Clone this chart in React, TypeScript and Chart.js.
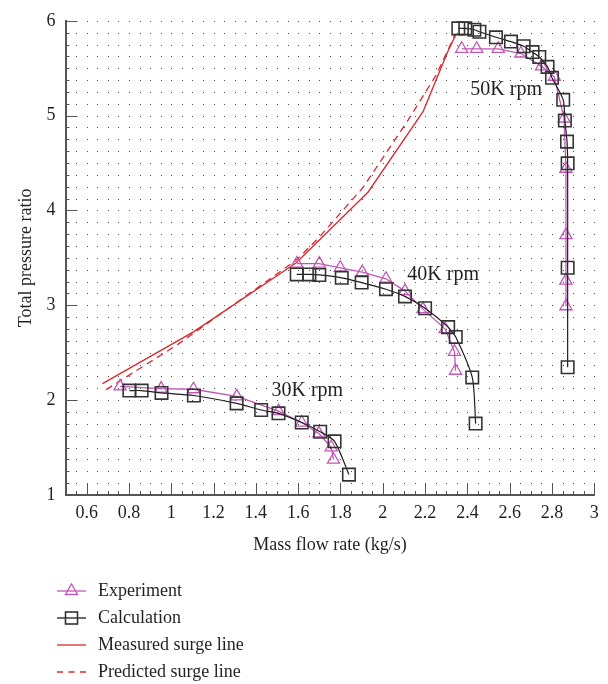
import React, { useEffect, useRef } from 'react';
import { Chart, registerables } from 'chart.js';

Chart.register(...registerables);

// ---------------- data ----------------
const EXP_30K_X = [0.758, 0.952, 1.105, 1.31, 1.507, 1.617, 1.698, 1.756, 1.767];
const EXP_30K_Y = [2.146, 2.122, 2.115, 2.04, 1.885, 1.764, 1.649, 1.503, 1.372];
const CALC_30K_X = [0.802, 0.86, 0.954, 1.107, 1.309, 1.425, 1.507, 1.617, 1.704, 1.772, 1.84];
const CALC_30K_Y = [2.101, 2.101, 2.076, 2.049, 1.966, 1.896, 1.861, 1.764, 1.667, 1.566, 1.215];

const EXP_40K_X = [1.594, 1.7, 1.799, 1.903, 2.015, 2.105, 2.19, 2.295, 2.339, 2.344];
const EXP_40K_Y = [3.44, 3.44, 3.396, 3.35, 3.28, 3.15, 2.96, 2.75, 2.51, 2.31];
const CALC_40K_X = [1.593, 1.653, 1.7, 1.806, 1.9, 2.015, 2.105, 2.2, 2.309, 2.345, 2.423, 2.439];
const CALC_40K_Y = [3.326, 3.326, 3.32, 3.29, 3.24, 3.17, 3.094, 2.969, 2.77, 2.667, 2.24, 1.753];

const EXP_50K_X = [2.373, 2.444, 2.546, 2.653, 2.751, 2.811, 2.857, 2.866, 2.866, 2.866, 2.866];
const EXP_50K_Y = [5.705, 5.705, 5.705, 5.655, 5.52, 5.41, 4.97, 4.44, 3.74, 3.26, 2.99];
const CALC_50K_X = [2.357, 2.39, 2.433, 2.457, 2.535, 2.606, 2.666, 2.708, 2.74, 2.779, 2.8, 2.853, 2.861, 2.871, 2.874, 2.874, 2.874];
const CALC_50K_Y = [5.92, 5.92, 5.906, 5.885, 5.826, 5.781, 5.732, 5.67, 5.618, 5.514, 5.4, 5.167, 4.948, 4.726, 4.497, 3.396, 2.347];

const MEASURED_SURGE_X = [0.675, 1.105, 1.591, 1.931, 2.191, 2.31, 2.345];
const MEASURED_SURGE_Y = [2.174, 2.72, 3.448, 4.195, 5.045, 5.69, 5.85];
const PREDICTED_SURGE_X = [0.692, 1.026, 1.593, 1.703, 1.908, 2.121, 2.252, 2.318, 2.342];
const PREDICTED_SURGE_Y = [2.111, 2.58, 3.48, 3.726, 4.247, 4.958, 5.427, 5.74, 5.86];

const X_TICKS = [0.6, 0.8, 1, 1.2, 1.4, 1.6, 1.8, 2, 2.2, 2.4, 2.6, 2.8, 3];
const Y_TICKS = [1, 2, 3, 4, 5, 6];
const X_MIN = 0.5;
const X_MAX = 3;
const Y_MIN = 1;
const Y_MAX = 6;
const X_MINOR_STEP = 0.05;
const Y_MINOR_STEP = 0.125;

const LEGEND_LABELS = ['Experiment', 'Calculation', 'Measured surge line', 'Predicted surge line'];
const SPEED_LABELS = ['30K rpm', '40K rpm', '50K rpm'];
const SPEED_LABEL_X = [1.474, 2.116, 2.414];
const SPEED_LABEL_Y = [2.094, 3.323, 5.27];

// ---------------- styles ----------------
const FONT = "'Liberation Serif', 'Times New Roman', serif";
const TEXT = '#231f20';
const EXP_COLOR = '#c157b5';
const CALC_COLOR = '#1e1e1e';
const SQUARE_COLOR = '#333333';
const SURGE_COLOR = '#d9282f';
const AXIS_COLOR = '#555555';
const DOT_COLOR = '#4a4a4a';
const LEGEND_TOP = 573;

const pts = (xs: number[], ys: number[]) => xs.map((x, i) => ({ x, y: ys[i] }));

function stepValues(min: number, max: number, step: number): number[] {
  const out: number[] = [];
  const n = Math.round((max - min) / step);
  for (let k = 1; k <= n; k++) out.push(+(min + k * step).toFixed(4));
  return out;
}

function makeSymbol(kind: string): HTMLCanvasElement {
  const c = document.createElement('canvas');
  c.width = 80;
  c.height = 20;
  const ctx = c.getContext('2d')!;
  const y = 10;
  const x0 = 48;
  const x1 = 77;
  const cx = 62.5;
  ctx.lineWidth = 1.3;
  if (kind === 'exp') {
    ctx.strokeStyle = EXP_COLOR;
    ctx.beginPath(); ctx.moveTo(x0, y); ctx.lineTo(x1, y); ctx.stroke();
    const r = 7;
    ctx.beginPath();
    ctx.moveTo(cx, y - r);
    ctx.lineTo(cx + r * 0.866, y + r / 2);
    ctx.lineTo(cx - r * 0.866, y + r / 2);
    ctx.closePath();
    ctx.stroke();
  } else if (kind === 'calc') {
    ctx.strokeStyle = CALC_COLOR;
    ctx.beginPath(); ctx.moveTo(x0, y); ctx.lineTo(x1, y); ctx.stroke();
    ctx.strokeStyle = SQUARE_COLOR;
    ctx.lineWidth = 1.6;
    ctx.strokeRect(cx - 6, y - 6, 12, 12);
  } else if (kind === 'measured') {
    ctx.strokeStyle = SURGE_COLOR;
    ctx.beginPath(); ctx.moveTo(x0, y); ctx.lineTo(x1, y); ctx.stroke();
  } else {
    ctx.strokeStyle = SURGE_COLOR;
    ctx.setLineDash([6, 5.5]);
    ctx.beginPath(); ctx.moveTo(x0, y); ctx.lineTo(x1 + 1, y); ctx.stroke();
  }
  return c;
}

const gridAndTicksPlugin = {
  id: 'gridAndTicks',
  beforeDatasetsDraw(chart: any) {
    const { ctx, chartArea, scales } = chart;
    const xs = scales.x;
    const ys = scales.y;
    ctx.save();
    ctx.fillStyle = DOT_COLOR;
    const gx = stepValues(X_MIN, X_MAX, X_MINOR_STEP);
    const gy = stepValues(Y_MIN, Y_MAX, Y_MINOR_STEP);
    for (const vx of gx) {
      const px = Math.round(xs.getPixelForValue(vx));
      for (const vy of gy) {
        const py = Math.round(ys.getPixelForValue(vy));
        ctx.fillRect(px, py, 1, 1);
      }
    }
    ctx.strokeStyle = AXIS_COLOR;
    ctx.lineWidth = 1;
    const bottom = chartArea.bottom;
    const left = chartArea.left;
    ctx.beginPath();
    for (const vx of gx) {
      const major = X_TICKS.some((t) => Math.abs(t - vx) < 1e-6);
      const px = Math.round(xs.getPixelForValue(vx)) + 0.5;
      ctx.moveTo(px, bottom);
      ctx.lineTo(px, bottom - (major ? 11 : 4));
    }
    for (const vy of gy) {
      const major = Y_TICKS.some((t) => Math.abs(t - vy) < 1e-6);
      const py = Math.round(ys.getPixelForValue(vy)) + 0.5;
      ctx.moveTo(left, py);
      ctx.lineTo(left + (major ? 12 : 4), py);
    }
    ctx.stroke();
    ctx.restore();
  },
};

const speedLabelPlugin = {
  id: 'speedLabels',
  afterDatasetsDraw(chart: any) {
    const { ctx, scales } = chart;
    ctx.save();
    ctx.font = `20px ${FONT}`;
    ctx.fillStyle = TEXT;
    ctx.textAlign = 'left';
    ctx.textBaseline = 'middle';
    SPEED_LABELS.forEach((label, i) => {
      ctx.fillText(label, scales.x.getPixelForValue(SPEED_LABEL_X[i]), scales.y.getPixelForValue(SPEED_LABEL_Y[i]));
    });
    ctx.restore();
  },
};

const moveLegendPlugin = {
  id: 'moveLegend',
  afterLayout(chart: any) {
    const lg = chart.legend;
    if (!lg) return;
    const w = lg.width;
    const h = lg.height;
    lg.left = 0;
    lg.right = w;
    lg.top = LEGEND_TOP;
    lg.bottom = LEGEND_TOP + h;
  },
};

export default function App() {
  const ref = useRef<HTMLCanvasElement | null>(null);

  useEffect(() => {
    document.body.style.margin = '0';
    const canvas = ref.current;
    if (!canvas) return;

    const symbols = [makeSymbol('exp'), makeSymbol('calc'), makeSymbol('measured'), makeSymbol('predicted')];

    const expStyle = {
      showLine: true,
      borderColor: EXP_COLOR,
      borderWidth: 1.3,
      pointStyle: 'triangle',
      pointRadius: 7,
      pointBorderColor: EXP_COLOR,
      pointBackgroundColor: 'rgba(0,0,0,0)',
      pointBorderWidth: 1.3,
      tension: 0,
      order: 1,
    };
    const calcStyle = {
      showLine: true,
      borderColor: CALC_COLOR,
      borderWidth: 1.2,
      pointStyle: 'rect',
      pointRadius: 8.8,
      pointBorderColor: SQUARE_COLOR,
      pointBackgroundColor: 'rgba(0,0,0,0)',
      pointBorderWidth: 1.6,
      tension: 0.25,
      order: 0,
    };
    const surgeStyle = {
      showLine: true,
      borderColor: SURGE_COLOR,
      borderWidth: 1.3,
      pointRadius: 0,
      tension: 0,
      order: 2,
    };

    const chart = new Chart(canvas, {
      type: 'scatter',
      data: {
        datasets: [
          { label: 'Experiment 30K', data: pts(EXP_30K_X, EXP_30K_Y), ...expStyle },
          { label: 'Experiment 40K', data: pts(EXP_40K_X, EXP_40K_Y), ...expStyle },
          { label: 'Experiment 50K', data: pts(EXP_50K_X, EXP_50K_Y), ...expStyle },
          { label: 'Calculation 30K', data: pts(CALC_30K_X, CALC_30K_Y), ...calcStyle },
          { label: 'Calculation 40K', data: pts(CALC_40K_X, CALC_40K_Y), ...calcStyle },
          { label: 'Calculation 50K', data: pts(CALC_50K_X, CALC_50K_Y), ...calcStyle },
          { label: 'Measured surge line', data: pts(MEASURED_SURGE_X, MEASURED_SURGE_Y), ...surgeStyle },
          { label: 'Predicted surge line', data: pts(PREDICTED_SURGE_X, PREDICTED_SURGE_Y), ...surgeStyle, borderDash: [7, 5] },
        ] as any,
      },
      options: {
        responsive: false,
        animation: false,
        devicePixelRatio: 1,
        events: [],
        layout: { padding: { left: 0, right: 13.7, top: 15, bottom: 111 } },
        scales: {
          x: {
            type: 'linear',
            min: X_MIN,
            max: X_MAX,
            afterBuildTicks: (s: any) => { s.ticks = X_TICKS.map((v) => ({ value: v })); },
            afterFit: (s: any) => { s.height = 78; },
            grid: { display: false, drawTicks: false },
            border: { display: true, color: AXIS_COLOR, width: 2 },
            ticks: {
              autoSkip: false,
              maxRotation: 0,
              minRotation: 0,
              padding: 7,
              color: TEXT,
              font: { family: FONT, size: 18 },
              callback: (v: any) => String(Math.round(Number(v) * 100) / 100),
            },
            title: {
              display: true,
              text: 'Mass flow rate (kg/s)',
              color: TEXT,
              font: { family: FONT, size: 18 },
              padding: { top: 0, bottom: 17.2 },
            },
          },
          y: {
            type: 'linear',
            min: Y_MIN,
            max: Y_MAX,
            afterBuildTicks: (s: any) => { s.ticks = Y_TICKS.map((v) => ({ value: v })); },
            afterFit: (s: any) => { s.width = 65.5; },
            grid: { display: false, drawTicks: false },
            border: { display: true, color: AXIS_COLOR, width: 2 },
            ticks: {
              padding: 10,
              color: TEXT,
              font: { family: FONT, size: 18 },
              callback: (v: any) => String(v),
            },
            title: {
              display: true,
              text: 'Total pressure ratio',
              color: TEXT,
              font: { family: FONT, size: 18 },
              padding: { top: 15, bottom: 0 },
            },
          },
        },
        plugins: {
          tooltip: { enabled: false },
          legend: {
            display: true,
            position: 'chartArea',
            align: 'start',
            labels: {
              usePointStyle: true,
              pointStyleWidth: 80,
              padding: 9,
              color: TEXT,
              font: { family: FONT, size: 18 },
              generateLabels: () =>
                LEGEND_LABELS.map((text, i) => ({
                  text,
                  pointStyle: symbols[i],
                  fontColor: TEXT,
                  hidden: false,
                  lineWidth: 0,
                  datasetIndex: [0, 3, 6, 7][i],
                })),
            },
          },
        },
      } as any,
      plugins: [gridAndTicksPlugin, speedLabelPlugin, moveLegendPlugin],
    });

    return () => chart.destroy();
  }, []);

  return (
    <canvas ref={ref} width={608} height={684} style={{ display: 'block', width: 608, height: 684 }} />
  );
}
